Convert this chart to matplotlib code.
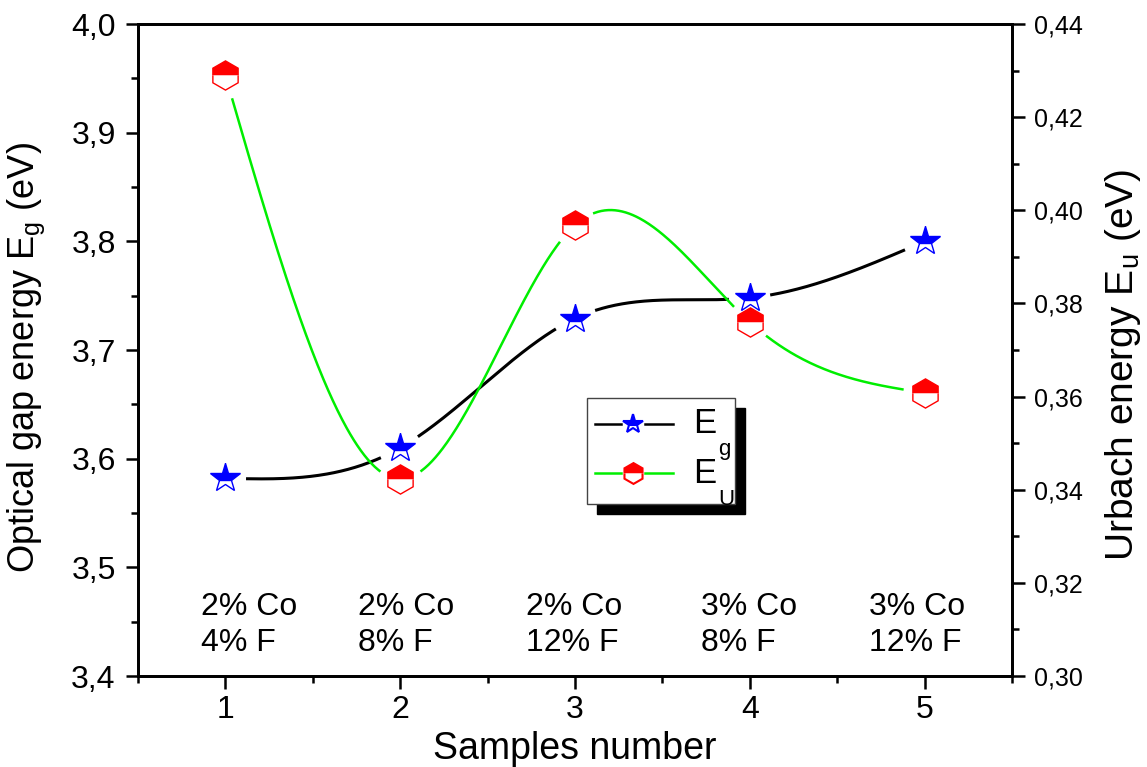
import numpy as np
import matplotlib
matplotlib.use("Agg")
import matplotlib.pyplot as plt
from matplotlib.lines import Line2D
from matplotlib.patches import Rectangle
from matplotlib.ticker import MultipleLocator, FuncFormatter
import matplotlib.transforms as mtransforms

plt.rcParams["font.family"] = ["Liberation Sans", "DejaVu Sans"]

# Samples and measured energies
samples = [1, 2, 3, 4, 5]
eg = [3.582, 3.610, 3.729, 3.748, 3.800]        # optical gap (eV)
eu = [0.4290, 0.3423, 0.3968, 0.3760, 0.3608]   # Urbach energy (eV)
compositions = ["2% Co\n4% F", "2% Co\n8% F", "2% Co\n12% F",
                "3% Co\n8% F", "3% Co\n12% F"]


def natural_spline(x, y, xs):
    x = np.asarray(x, float)
    y = np.asarray(y, float)
    n = len(x)
    h = np.diff(x)
    A = np.zeros((n, n))
    b = np.zeros(n)
    A[0, 0] = A[-1, -1] = 1
    for i in range(1, n - 1):
        A[i, i - 1] = h[i - 1]
        A[i, i] = 2 * (h[i - 1] + h[i])
        A[i, i + 1] = h[i]
        b[i] = 6 * ((y[i + 1] - y[i]) / h[i] - (y[i] - y[i - 1]) / h[i - 1])
    m = np.linalg.solve(A, b)
    out = np.empty_like(xs)
    for j, xv in enumerate(xs):
        i = min(max(np.searchsorted(x, xv) - 1, 0), n - 2)
        t0 = x[i + 1] - xv
        t1 = xv - x[i]
        out[j] = (m[i] * t0 ** 3 + m[i + 1] * t1 ** 3) / (6 * h[i]) \
            + (y[i] / h[i] - m[i] * h[i] / 6) * t0 \
            + (y[i + 1] / h[i] - m[i + 1] * h[i] / 6) * t1
    return out


def gapped(ax, xs, ys, px, py, radius=22):
    # blank the curve around each symbol, as the plotting program does
    pts = ax.transData.transform(np.column_stack([xs, ys]))
    ctr = ax.transData.transform(np.column_stack([px, py]))
    ys = ys.copy()
    for c in ctr:
        d = np.hypot(pts[:, 0] - c[0], pts[:, 1] - c[1])
        ys[d < radius] = np.nan
    return ys


fig = plt.figure(figsize=(11.47, 7.67), dpi=100)
ax = fig.add_axes([0.1203, 0.1186, 0.7620, 0.8501])
ax2 = ax.twinx()

ax.set_xlim(0.5, 5.5)
ax.set_ylim(3.4, 4.0)
ax2.set_ylim(0.30, 0.44)

xs = np.linspace(1, 5, 600)
eg_curve = gapped(ax, xs, natural_spline(samples, eg, xs), samples, eg)
eu_curve = gapped(ax2, xs, natural_spline(samples, eu, xs), samples, eu)

ax.plot(xs, eg_curve, color="black", lw=2.2, zorder=2)
ax2.plot(xs, eu_curve, color="#00ee00", lw=1.8, zorder=2)

ax.plot(samples, eg, ls="none", marker="*", ms=22, fillstyle="top",
        mfc="#0000ff", mfcalt="white", mec="#0000ff", mew=1.0, zorder=3)
ax2.plot(samples, eu, ls="none", marker="h", ms=21, fillstyle="top",
         mfc="#ff0000", mfcalt="white", mec="#ff0000", mew=1.0, zorder=3)

# axes styling
comma = FuncFormatter(lambda v, p: f"{v:.1f}".replace(".", ","))
comma2 = FuncFormatter(lambda v, p: f"{v:.2f}".replace(".", ","))
ax.xaxis.set_major_locator(MultipleLocator(1))
ax.xaxis.set_minor_locator(MultipleLocator(0.5))
ax.yaxis.set_major_locator(MultipleLocator(0.1))
ax.yaxis.set_minor_locator(MultipleLocator(0.05))
ax.yaxis.set_major_formatter(comma)
ax2.yaxis.set_major_locator(MultipleLocator(0.02))
ax2.yaxis.set_minor_locator(MultipleLocator(0.01))
ax2.yaxis.set_major_formatter(comma2)

for a in (ax, ax2):
    for s in a.spines.values():
        s.set_linewidth(2.0)
ax.tick_params(axis="both", which="major", direction="out", length=9,
               width=1.8, pad=7, top=False, right=False)
ax.tick_params(axis="both", which="minor", direction="out", length=5,
               width=1.8, top=False, right=False)
ax.tick_params(axis="x", labelsize=23, pad=5)
ax.tick_params(axis="y", labelsize=23)
ax2.tick_params(axis="y", which="major", direction="out", length=9,
                width=1.8, pad=7, labelsize=18)
ax2.tick_params(axis="y", which="minor", direction="out", length=5, width=1.8)

ax.set_xlabel("Samples number", fontsize=27)
ax.xaxis.set_label_coords(0.5, -0.084)
ax.set_ylabel(r"Optical gap energy E$\mathregular{_g}$ (eV)", fontsize=26)
ax.yaxis.set_label_coords(-0.104, 0.489)
ax2.set_ylabel(r"Urbach energy E$\mathregular{_u}$ (eV)", fontsize=28)
ax2.yaxis.set_label_coords(1.104, 0.477)

# composition of each sample along the bottom
trans = mtransforms.blended_transform_factory(ax.transData, ax.transAxes)
offsets = [-0.137, -0.24, -0.28, -0.28, -0.32]
for x, txt, dx in zip(samples, compositions, offsets):
    ax.text(x + dx, 0.078, txt, transform=trans, fontsize=23,
            ha="left", va="center", linespacing=1.25)

# legend with solid drop shadow
lx0, lx1, ly0, ly1 = 0.514, 0.683, 0.264, 0.426
ax.add_patch(Rectangle((lx0 + 0.0114, ly0 - 0.0153), lx1 - lx0, ly1 - ly0,
                       transform=ax.transAxes, facecolor="black",
                       edgecolor="black", zorder=5, clip_on=False))
ax.add_patch(Rectangle((lx0, ly0), lx1 - lx0, ly1 - ly0,
                       transform=ax.transAxes, facecolor="white",
                       edgecolor="#444444", lw=1.0, zorder=6, clip_on=False))
for yy, lc, mk, mc, sub in [(0.387, "black", "*", "#0000ff", "g"),
                            (0.311, "#00ee00", "h", "#ff0000", "U")]:
    for seg in ([0.523, 0.553], [0.580, 0.612]):
        ax.add_line(Line2D(seg, [yy, yy], transform=ax.transAxes,
                           color=lc, lw=1.8, zorder=7))
    ax.add_line(Line2D([0.566], [yy], transform=ax.transAxes, ls="none",
                       marker=mk, ms=15, fillstyle="top", mfc=mc,
                       mfcalt="white", mec=mc, mew=1.5, zorder=8))
    ax.text(0.635, yy, "E", transform=ax.transAxes, fontsize=25,
            ha="left", va="center", zorder=8)
    ax.text(0.664, yy - 0.04, sub, transform=ax.transAxes, fontsize=16,
            ha="left", va="center", zorder=8)

fig.savefig("out.png", dpi=100)
